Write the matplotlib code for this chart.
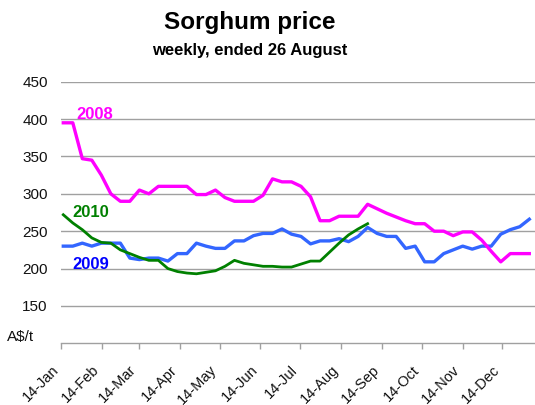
import matplotlib
matplotlib.use("Agg")
import matplotlib.pyplot as plt
import matplotlib.transforms as mtransforms
import numpy as np

plt.rcParams['font.family'] = ['Liberation Sans', 'DejaVu Sans']

# weekly sorghum prices (A$/t), first week mid-January
y2008 = [395, 395, 347, 345, 325, 300, 290, 290, 305, 300,
         310, 310, 310, 310, 299, 299, 305, 295, 290, 290,
         290, 298, 320, 316, 316, 310, 296, 264, 264, 270,
         270, 270, 286, 280, 274, 269, 264, 260, 260, 250,
         250, 244, 249, 249, 238, 223, 209, 220, 220, 220]
y2009 = [230, 230, 234, 230, 234, 234, 234, 214, 212, 214,
         214, 210, 220, 220, 234, 230, 227, 227, 237, 237,
         244, 247, 247, 253, 246, 243, 233, 237, 237, 240,
         236, 243, 255, 247, 243, 243, 227, 230, 209, 209,
         220, 225, 230, 226, 230, 230, 246, 252, 256, 266]
y2010 = [272, 261, 252, 241, 235, 234, 225, 220, 215, 211,
         211, 200, 196, 194, 193, 195, 197, 203, 211, 207,
         205, 203, 203, 202, 202, 206, 210, 210, 222, 234,
         245, 253, 260]

tick_labels = ['14-Jan', '14-Feb', '14-Mar', '14-Apr', '14-May', '14-Jun',
               '14-Jul', '14-Aug', '14-Sep', '14-Oct', '14-Nov', '14-Dec']
tick_doy = [13, 44, 72, 103, 133, 164, 194, 225, 256, 286, 317, 347]
y_ticks = [150, 200, 250, 300, 350, 400, 450]

W, H = 535, 405
fig = plt.figure(figsize=(W / 100, H / 100), dpi=100)
ax = fig.add_axes([61 / W, 1 - 343.3 / H, (535 - 61) / W, (343.3 - 81.7) / H])

step_days = 7.2
tick_pos = [(d - 13) / step_days - 0.24 for d in tick_doy]

ax.plot(np.arange(len(y2009)), y2009, color='#3366FF', lw=2.4, solid_joinstyle='round')
ax.plot(np.arange(len(y2008)), y2008, color='#FF00FF', lw=2.4, solid_joinstyle='round')
ax.plot(np.arange(len(y2010)), y2010, color='#008000', lw=2.0, solid_joinstyle='round')

ax.set_xlim(-0.24, 49.6)
ax.set_ylim(100, 450)
ax.set_yticks(y_ticks)
ax.set_yticklabels([str(v) for v in y_ticks])
ax.yaxis.grid(True, color='#A0A0A0', lw=1.0)
ax.set_axisbelow(True)
ax.tick_params(axis='y', length=0, pad=9.5, labelsize=11, labelcolor='#111111')

ax.set_xticks(tick_pos)
ax.set_xticklabels(tick_labels, rotation=45, ha='right', va='top', rotation_mode='anchor')
ax.tick_params(axis='x', length=4, width=1, color='#A0A0A0', pad=10, labelsize=10.5, labelcolor='#111111')
shift = mtransforms.ScaledTranslation(-7 / 72, 0, fig.dpi_scale_trans)
for lab in ax.get_xticklabels():
    lab.set_transform(lab.get_transform() + shift)

for s in ['top', 'right', 'left']:
    ax.spines[s].set_visible(False)
ax.spines['bottom'].set_color('#A0A0A0')
ax.spines['bottom'].set_linewidth(1.0)

ax.text(3.3, 406, '2008', color='#FF00FF', fontsize=12, fontweight='bold', ha='center', va='center')
ax.text(2.9, 275, '2010', color='#008000', fontsize=12, fontweight='bold', ha='center', va='center')
ax.text(2.9, 205, '2009', color='#0000FF', fontsize=12, fontweight='bold', ha='center', va='center')

fig.text(7 / W, 1 - 337 / H, 'A$/t', fontsize=11, ha='left', va='center', color='#111111')
fig.text(249.5 / W, 1 - 29 / H, 'Sorghum price', fontsize=17.5, fontweight='bold', ha='center', va='baseline')
fig.text(249.5 / W, 1 - 55 / H, 'weekly, ended 26 August', fontsize=12, fontweight='bold', ha='center', va='baseline')

fig.savefig('out.png', dpi=100)
